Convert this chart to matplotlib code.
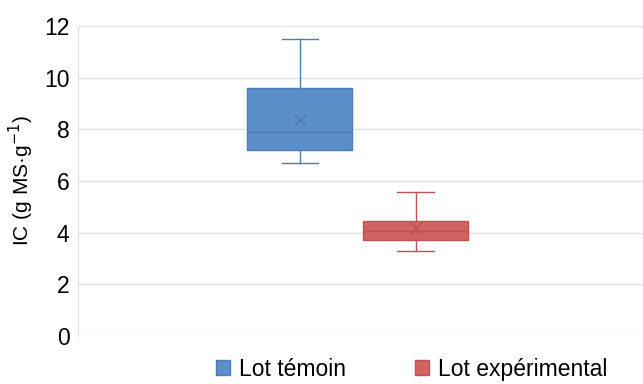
import matplotlib.pyplot as plt
from matplotlib.patches import Patch

plt.rcParams['font.family'] = ['Liberation Sans', 'DejaVu Sans']

labels = ['Lot témoin', 'Lot expérimental']
whislo = [6.7, 3.3]
q1 = [7.2, 3.72]
med = [7.9, 4.06]
q3 = [9.6, 4.45]
whishi = [11.5, 5.57]
mean = [8.35, 4.18]
faces = ['#5B8FC9', '#D46262']
edges = ['#4C7CB2', '#BE5252']

fig = plt.figure(figsize=(6.43, 3.84), dpi=100)
ax = fig.add_axes([0.121, 0.125, 0.879, 0.807])

stats = []
for i in range(2):
    stats.append(dict(label=labels[i], whislo=whislo[i], q1=q1[i], med=med[i],
                      q3=q3[i], whishi=whishi[i], mean=mean[i], fliers=[]))

pos = [0.393, 0.598]
for i in range(2):
    ax.bxp([stats[i]], positions=[pos[i]], widths=0.186, patch_artist=True,
           showmeans=True, manage_ticks=False,
           boxprops=dict(facecolor=faces[i], edgecolor=edges[i], linewidth=1),
           medianprops=dict(color=edges[i], linewidth=1),
           whiskerprops=dict(color=edges[i], linewidth=1),
           capprops=dict(color=edges[i], linewidth=1),
           capwidths=0.065,
           meanprops=dict(marker='x', markeredgecolor=edges[i], markersize=8))

ax.set_xlim(0, 1)
ax.set_ylim(0, 12)
ax.set_yticks(range(0, 13, 2))
ax.set_xticks([])
ax.grid(axis='y', color='#E0E0E0', linewidth=1)
ax.set_axisbelow(True)
for s in ['top', 'right', 'bottom']:
    ax.spines[s].set_visible(False)
ax.spines['left'].set_color('#E0E0E0')
ax.tick_params(axis='y', length=0, labelsize=16.5, pad=6)
ax.set_ylabel('IC (g MS·g$^{-1}$)', fontsize=15, labelpad=6)

handles = [Patch(facecolor=faces[i], edgecolor=edges[i], label=labels[i]) for i in range(2)]
fig.legend(handles=handles, loc='lower left', bbox_to_anchor=(216 / 643, 0.008), ncol=2,
           frameon=False, fontsize=16.5, handlelength=0.62, handleheight=0.62,
           handletextpad=0.39, columnspacing=3.0, borderpad=0, borderaxespad=0)

fig.savefig('out.png', dpi=100)
